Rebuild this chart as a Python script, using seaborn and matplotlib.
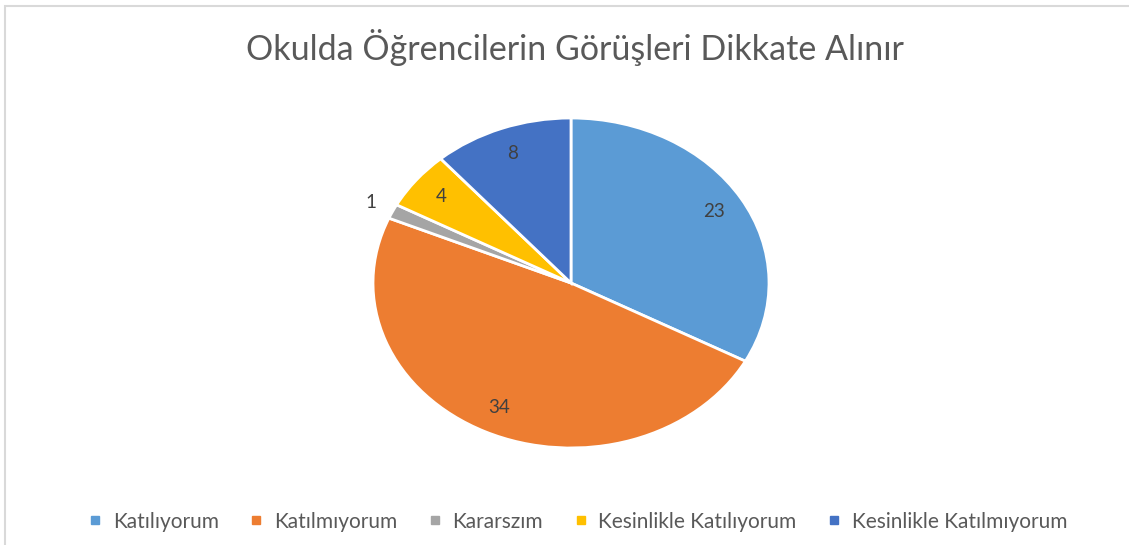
import numpy as np
import matplotlib
matplotlib.use('Agg')
import matplotlib.pyplot as plt
import seaborn as sns
from matplotlib.lines import Line2D
from matplotlib.patches import Rectangle

# Chart data
TITLE = 'Okulda Öğrencilerin Görüşleri Dikkate Alınır'
categories = ['Katılıyorum', 'Katılmıyorum', 'Kararszım', 'Kesinlikle Katılıyorum', 'Kesinlikle Katılmıyorum']
values = [23, 34, 1, 4, 8]
colors = ['#5B9BD5', '#ED7D31', '#A5A5A5', '#FFC000', '#4472C4']

sns.set_theme(style='white')
plt.rcParams['font.family'] = ['Lato', 'DejaVu Sans']

fig = plt.figure(figsize=(11.29, 5.45), dpi=100)
fig.patch.set_facecolor('white')

# light frame (top and left edge visible in the reference)
fig.add_artist(Rectangle((5 / 1129, -0.01), 1.2, (545 - 6) / 545 + 0.01,
                         transform=fig.transFigure, fill=False,
                         edgecolor='#d9d9d9', linewidth=1.5))

fig.text(0.509, 0.913, TITLE, ha='center', va='center', fontsize=24.5, color='#595959')

# pie is stretched a bit horizontally
cx, cy, rx, ry = 571, 283, 198, 165
ax = fig.add_axes([(cx - rx) / 1129, (545 - cy - ry) / 545, 2 * rx / 1129, 2 * ry / 545])
wedges, _ = ax.pie(values, colors=colors, startangle=90, counterclock=False,
                   wedgeprops=dict(edgecolor='white', linewidth=2))
ax.set_aspect('auto')
ax.set_xlim(-1, 1)
ax.set_ylim(-1, 1)
ax.axis('off')

for w, v in zip(wedges, values):
    theta = np.deg2rad((w.theta1 + w.theta2) / 2)
    r = 1.12 if v < 2 else 0.84
    ax.text(r * np.cos(theta), r * np.sin(theta), str(v), ha='center', va='center',
            fontsize=13.5, color='#404040')

handles = [Line2D([0], [0], marker='s', linestyle='', markersize=6,
                  markerfacecolor=c, markeredgecolor=c) for c in colors]
fig.legend(handles, categories, loc='center', bbox_to_anchor=(0.512, 0.043), ncol=5,
           frameon=False, fontsize=15, handlelength=0.6, handletextpad=0.55,
           columnspacing=1.5, labelcolor='#595959')

plt.savefig('out.png', dpi=100)
